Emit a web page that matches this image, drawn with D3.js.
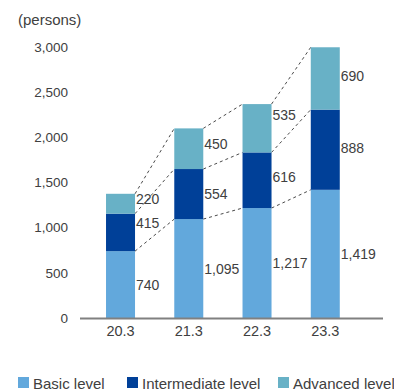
<!DOCTYPE html>
<html>
<head>
<meta charset="utf-8">
<script src="https://cdn.jsdelivr.net/npm/d3@7/dist/d3.min.js"></script>
<style>
  html, body { margin: 0; padding: 0; background: #fff; }
  svg { display: block; font-family: "Liberation Sans", Arial, Helvetica, sans-serif; }
</style>
</head>
<body>
<svg id="chart" width="394" height="391"></svg>
<script>
// Fiscal year-ends (March) on the x axis
const categories = ["20.3", "21.3", "22.3", "23.3"];
// Trainees per level, stacked bottom to top
const seriesNames = ["Basic level", "Intermediate level", "Advanced level"];
const basic = [740, 1095, 1217, 1419];
const intermediate = [415, 554, 616, 888];
const advanced = [220, 450, 535, 690];
const yTicks = [0, 500, 1000, 1500, 2000, 2500, 3000];
const unitLabel = "(persons)";

const colors = ["#62a8dc", "#004098", "#68b1c6"];
const textColor = "#404040";

const svg = d3.select("#chart");

const y = d3.scaleLinear().domain([0, 3000]).range([318, 47]);
const x = d3.scaleBand()
  .domain(categories)
  .range([86.4, 359.4])
  .paddingInner(0.575)
  .paddingOuter(0.2875);

const rows = categories.map((c, i) => ({
  cat: c,
  "Basic level": basic[i],
  "Intermediate level": intermediate[i],
  "Advanced level": advanced[i]
}));
const stacked = d3.stack().keys(seriesNames)(rows);

// Unit caption
svg.append("text")
  .attr("x", 18).attr("y", 25)
  .attr("font-size", 15)
  .attr("fill", textColor)
  .text(unitLabel);

// Y axis labels (no line, no ticks)
const yAxis = d3.axisLeft(y).tickValues(yTicks).tickSize(0).tickPadding(0)
  .tickFormat(d3.format(","));
const gy = svg.append("g").attr("transform", "translate(68,0)").call(yAxis);
gy.select(".domain").remove();
gy.selectAll("text")
  .attr("font-size", 13.5)
  .attr("fill", textColor)
  .attr("font-family", "Liberation Sans, Arial, sans-serif");

// Dashed connectors between the tops of matching segments
const connectors = svg.append("g");
stacked.forEach(layer => {
  for (let i = 0; i < categories.length - 1; i++) {
    const a = layer[i], b = layer[i + 1];
    connectors.append("line")
      .attr("x1", x(categories[i]) + x.bandwidth())
      .attr("y1", y(a[1]))
      .attr("x2", x(categories[i + 1]))
      .attr("y2", y(b[1]))
      .attr("stroke", "#4a4a4a")
      .attr("stroke-width", 1)
      .attr("stroke-dasharray", "3,3");
  }
});

// Stacked bars
stacked.forEach((layer, k) => {
  svg.append("g").selectAll("rect")
    .data(layer)
    .join("rect")
    .attr("x", d => x(d.data.cat))
    .attr("y", d => y(d[1]))
    .attr("width", x.bandwidth())
    .attr("height", d => y(d[0]) - y(d[1]))
    .attr("fill", colors[k]);
});

// Value labels beside each segment, lifted where a connector would cross them
const labelLift = {
  "20.3|Intermediate level": 9, "20.3|Advanced level": 5,
  "21.3|Advanced level": 5,
  "22.3|Intermediate level": 3, "22.3|Advanced level": 13,
  "23.3|Intermediate level": 2, "23.3|Advanced level": 2
};
stacked.forEach(layer => {
  svg.append("g").selectAll("text")
    .data(layer)
    .join("text")
    .attr("x", d => x(d.data.cat) + x.bandwidth() + 1)
    .attr("y", d => (y(d[0]) + y(d[1])) / 2 - (labelLift[d.data.cat + "|" + layer.key] || 0))
    .attr("dy", "0.36em")
    .attr("font-size", 14)
    .attr("fill", textColor)
    .text(d => d3.format(",")(d.data[layer.key]));
});

// Baseline
svg.append("line")
  .attr("x1", 80).attr("x2", 383)
  .attr("y1", y(0) + 0.5).attr("y2", y(0) + 0.5)
  .attr("stroke", "#808080").attr("stroke-width", 2);

// Category labels
const xAxis = d3.axisBottom(x).tickSize(0).tickPadding(0);
const gx = svg.append("g").attr("transform", `translate(0,${y(0) + 8})`).call(xAxis);
gx.select(".domain").remove();
gx.selectAll("text")
  .attr("font-size", 14.5)
  .attr("fill", textColor)
  .attr("font-family", "Liberation Sans, Arial, sans-serif");

// Legend
const legendX = [18, 127, 278];
const legend = svg.append("g");
seriesNames.forEach((name, k) => {
  legend.append("rect")
    .attr("x", legendX[k]).attr("y", 377)
    .attr("width", 11).attr("height", 11)
    .attr("fill", colors[k]);
  legend.append("text")
    .attr("x", legendX[k] + 15).attr("y", 388.5)
    .attr("font-size", 15)
    .attr("fill", textColor)
    .text(name);
});
</script>
</body>
</html>
